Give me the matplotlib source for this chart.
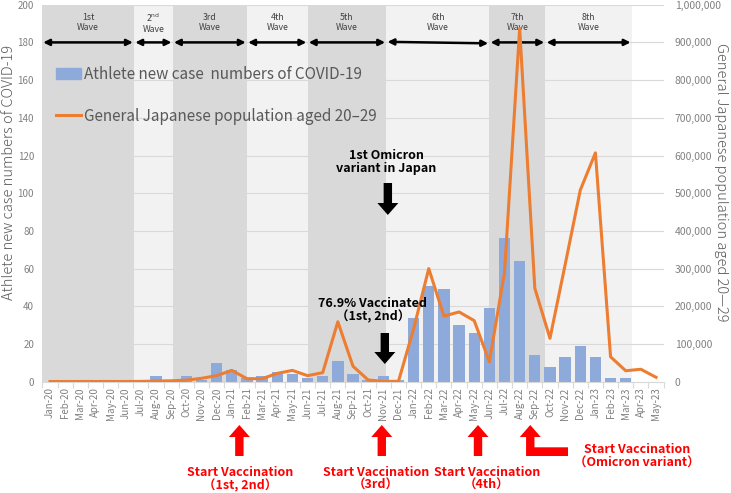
import numpy as np
import matplotlib
matplotlib.use("Agg")
import matplotlib.pyplot as plt
from matplotlib.patches import Polygon, Patch
from matplotlib.lines import Line2D

plt.rcParams['font.family'] = ['Noto Sans CJK JP', 'DejaVu Sans']

# data
months = ['Jan-20', 'Feb-20', 'Mar-20', 'Apr-20', 'May-20', 'Jun-20', 'Jul-20', 'Aug-20',
          'Sep-20', 'Oct-20', 'Nov-20', 'Dec-20', 'Jan-21', 'Feb-21', 'Mar-21', 'Apr-21',
          'May-21', 'Jun-21', 'Jul-21', 'Aug-21', 'Sep-21', 'Oct-21', 'Nov-21', 'Dec-21',
          'Jan-22', 'Feb-22', 'Mar-22', 'Apr-22', 'May-22', 'Jun-22', 'Jul-22', 'Aug-22',
          'Sep-22', 'Oct-22', 'Nov-22', 'Dec-22', 'Jan-23', 'Feb-23', 'Mar-23', 'Apr-23',
          'May-23']
athletes = [0, 0, 0, 0, 0, 0, 0, 3, 0, 3, 1, 10, 6, 2, 3, 5, 4, 2, 3, 11, 4, 1, 3, 1,
            34, 51, 49, 30, 26, 39, 76, 64, 14, 8, 13, 19, 13, 2, 2, 0, 0]
general = [500, 500, 500, 500, 500, 500, 800, 1500, 2500, 4000, 9000, 16000, 30000, 8000,
           8000, 22000, 30000, 16000, 24000, 159000, 41000, 4500, 800, 1000, 140000,
           300000, 174000, 185000, 162000, 53000, 290000, 937000, 248000, 115000, 310000,
           508000, 607000, 66000, 29000, 33000, 11700]
wave_names = ['1st', '2nd', '3rd', '4th', '5th', '6th', '7th', '8th']
wave_edges = [-0.53, 5.55, 8.1, 13.0, 17.0, 22.2, 29.0, 32.7, 38.4]
wave_colors = ['#d9d9d9', '#f2f2f2', '#d9d9d9', '#f2f2f2', '#d9d9d9', '#f2f2f2', '#d9d9d9', '#f2f2f2']

W, H = 731, 493
fig = plt.figure(figsize=(W / 100, H / 100), dpi=100)
ax = fig.add_axes([42.4 / W, 1 - 381.7 / H, 621.2 / W, 377.0 / H])
x = np.arange(len(months))
ax.set_xlim(-0.5, len(months) - 0.5)
ax.set_ylim(0, 200)

# wave shading
for i in range(len(wave_names)):
    ax.axvspan(wave_edges[i], wave_edges[i + 1], ymin=0, ymax=1, color=wave_colors[i], lw=0, zorder=0)
for yv in range(20, 201, 20):
    ax.axhline(yv, color='#d9d9d9', lw=0.8, zorder=0.5)

ax.bar(x, athletes, width=0.75, color='#8eaadb', zorder=2)

# wave labels and arrows
for i, name in enumerate(wave_names):
    x0, x1 = wave_edges[i], wave_edges[i + 1]
    xc = (x0 + x1) / 2
    if name == '2nd':
        lab = '2$^{\\mathrm{nd}}$\nWave'
    else:
        lab = name + '\nWave'
    ax.text(xc, 190.5, lab, ha='center', va='center', fontsize=6.3, color='#404040',
            linespacing=1.15, zorder=3)
    ya, yb = 180, 180
    if name == '6th':
        ya, yb = 180.3, 179.5
    ax.annotate('', xy=(x1 - 0.08, yb), xytext=(x0 + 0.08, ya),
                arrowprops=dict(arrowstyle='<|-|>', color='black', lw=1.8,
                                mutation_scale=9, shrinkA=0, shrinkB=0), zorder=3)

ax.set_xticks(x)
ax.set_xticklabels(months, rotation=90, fontsize=7, color='#808080')
ax.set_xticks(np.arange(-0.5, len(months), 1), minor=True)
ax.tick_params(axis='x', which='major', length=0, pad=4)
ax.tick_params(axis='x', which='minor', length=4, color='#d9d9d9', width=0.8)
ax.set_yticks(range(0, 201, 20))
ax.tick_params(axis='y', length=0, labelsize=7, labelcolor='#808080', pad=6)
for s in ['top', 'left', 'right']:
    ax.spines[s].set_visible(False)
ax.spines['bottom'].set_color('#d9d9d9')
ax.set_ylabel('Athlete new case numbers of COVID-19', fontsize=10.5, color='#595959',
              fontweight='light', va='center')
ax.yaxis.set_label_coords(-0.053, 0.556)

ax2 = ax.twinx()
ax2.set_ylim(0, 1000000)
ax2.plot(x, general, color='#ed7d31', lw=2.2, zorder=3)
ax2.set_yticks(range(0, 1000001, 100000))
ax2.set_yticklabels(['{:,}'.format(v) for v in range(0, 1000001, 100000)])
ax2.tick_params(axis='y', length=0, labelsize=7.5, labelcolor='#808080', pad=8)
for s in ax2.spines.values():
    s.set_visible(False)
ax2.set_ylabel('General Japanese population aged 20\u201429', fontsize=10.5, color='#595959',
               rotation=270, fontweight='light', va='center')
ax2.yaxis.set_label_coords(1.093, 0.53)

handles = [Patch(color='#8eaadb'), Line2D([0], [0], color='#ed7d31', lw=2.2)]
labels = ['Athlete new case  numbers of COVID-19', 'General Japanese population aged 20\u201329']
leg = ax2.legend(handles, labels, loc='upper left', bbox_to_anchor=(0.0, 0.875), frameon=False,
                 fontsize=11, labelspacing=1.65, handlelength=1.6, handletextpad=0.2)
for t in leg.get_texts():
    t.set_color('#595959')

# overlay in pixel coordinates for annotations
ov = fig.add_axes([0, 0, 1, 1], zorder=10)
ov.set_xlim(0, W)
ov.set_ylim(H, 0)
ov.axis('off')
ov.patch.set_alpha(0)


def px(i):
    return ax.transData.transform((i, 0))[0]


def arrow(cx, ytip, yend, color, up=True, sw=4.2, hw=10.5, hl=12):
    s = 1 if up else -1
    yb = ytip + s * hl
    pts = [(cx - sw, yend), (cx - sw, yb), (cx - hw, yb), (cx, ytip), (cx + hw, yb),
           (cx + sw, yb), (cx + sw, yend)]
    ov.add_patch(Polygon(pts, closed=True, color=color, lw=0))


# black annotations
arrow(px(22.3), 215, 183, 'black', up=False)
ov.text(px(22.2), 162, '1st Omicron\nvariant in Japan', ha='center', va='center', fontsize=9,
        fontweight='bold', color='black', linespacing=1.05)
arrow(px(22.1), 364, 333, 'black', up=False)
ov.text(373, 310, '76.9% Vaccinated\n\uff081st, 2nd\uff09', ha='center', va='center', fontsize=9,
        fontweight='bold', color='black', linespacing=1.05)

# red vaccination arrows
red = '#ff0000'
arrow(px(12.5), 425, 456, red)
arrow(px(21.9), 425, 456, red)
arrow(px(28.25), 425, 456, red)
cx = px(31.7)
ov.add_patch(Polygon([(cx - 4.2, 456), (cx - 4.2, 437), (cx - 10.5, 437), (cx, 425),
                      (cx + 10.5, 437), (cx + 4.2, 437), (cx + 4.2, 447.3),
                      (568, 447.3), (568, 456)], closed=True, color=red, lw=0))
ov.text(240, 479, 'Start Vaccination\n\uff081st, 2nd\uff09', ha='center', va='center', fontsize=9,
        fontweight='bold', color=red, linespacing=1.05)
ov.text(376, 479, 'Start Vaccination\n\uff083rd\uff09', ha='center', va='center', fontsize=9,
        fontweight='bold', color=red, linespacing=1.05)
ov.text(487, 479, 'Start Vaccination\n\uff084th\uff09', ha='center', va='center', fontsize=9,
        fontweight='bold', color=red, linespacing=1.05)
ov.text(637, 456, 'Start Vaccination\n\uff08Omicron variant\uff09', ha='center', va='center',
        fontsize=9, fontweight='bold', color=red, linespacing=1.05)

fig.savefig('out.png', dpi=100)
